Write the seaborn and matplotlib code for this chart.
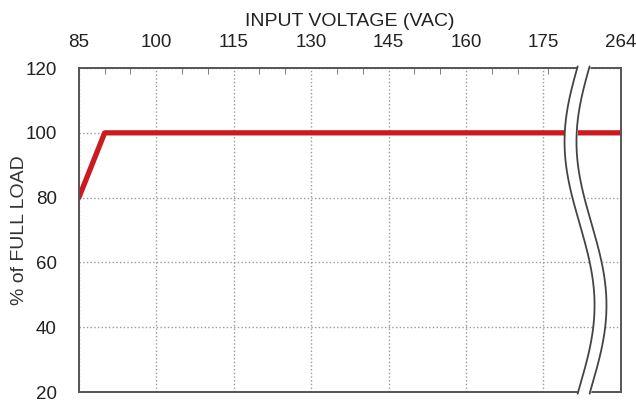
import numpy as np
import seaborn as sns
import matplotlib
matplotlib.use("Agg")
import matplotlib.pyplot as plt

# data
voltage = [85, 90, 264]
load_pct = [80, 100, 100]
x_ticks = [85, 100, 115, 130, 145, 160, 175, 264]
y_ticks = [20, 40, 60, 80, 100, 120]

sns.set_style("white")
plt.rcParams["font.family"] = ["Liberation Sans", "DejaVu Sans"]


# broken axis: everything above 175 is squeezed so 264 sits one step after 175
def fwd(v):
    v = np.asarray(v, dtype=float)
    return np.where(v <= 175, v, 175 + (v - 175) * 15 / 89)


def inv(v):
    v = np.asarray(v, dtype=float)
    return np.where(v <= 175, v, 175 + (v - 175) * 89 / 15)


fig = plt.figure(figsize=(6.36, 4.05), dpi=100)
ax = fig.add_axes([0.124, 0.032, 0.852, 0.80])
ax.set_xscale("function", functions=(fwd, inv))

sns.lineplot(x=voltage, y=load_pct, ax=ax, color="#cc1b1f", linewidth=3.8, zorder=2)

ax.set_xlim(85, 264)
ax.set_ylim(20, 120)
ax.xaxis.tick_top()
ax.xaxis.set_label_position("top")
ax.set_xticks(x_ticks)
ax.set_xticklabels([str(t) for t in x_ticks])
ax.set_xticks(list(range(90, 185, 5)), minor=True)
ax.set_yticks(y_ticks)

ax.tick_params(axis="x", which="major", direction="in", length=0, pad=12,
               labelsize=13.5, colors="#222222")
ax.tick_params(axis="x", which="minor", direction="in", length=4, color="#666666")
ax.tick_params(axis="y", length=0, pad=16, labelsize=13.5, colors="#222222")

ax.grid(True, which="major", linestyle=":", color="#999999", linewidth=1)
for s in ax.spines.values():
    s.set_color("#555555")
    s.set_linewidth(1.4)

ax.set_xlabel("INPUT VOLTAGE (VAC)", fontsize=14, color="#222222", labelpad=6)
ax.set_ylabel("% of FULL LOAD", fontsize=14, color="#333333")
ax.yaxis.set_label_coords(-0.094, 0.5)

# wavy break symbol
t = np.linspace(0, 1, 200)
yy = -0.005 + 1.01 * t
xl = 0.924 + 0.0277 * np.sin(2 * np.pi * (0.52 - t))
xr = xl + 0.022
ax.fill_betweenx(yy, xl, xr, color="white", transform=ax.transAxes,
                 clip_on=False, zorder=3)
ax.plot(xl, yy, color="#444444", linewidth=1.3, transform=ax.transAxes,
        clip_on=False, zorder=4)
ax.plot(xr, yy, color="#444444", linewidth=1.3, transform=ax.transAxes,
        clip_on=False, zorder=4)

fig.savefig("out.png", dpi=100)
